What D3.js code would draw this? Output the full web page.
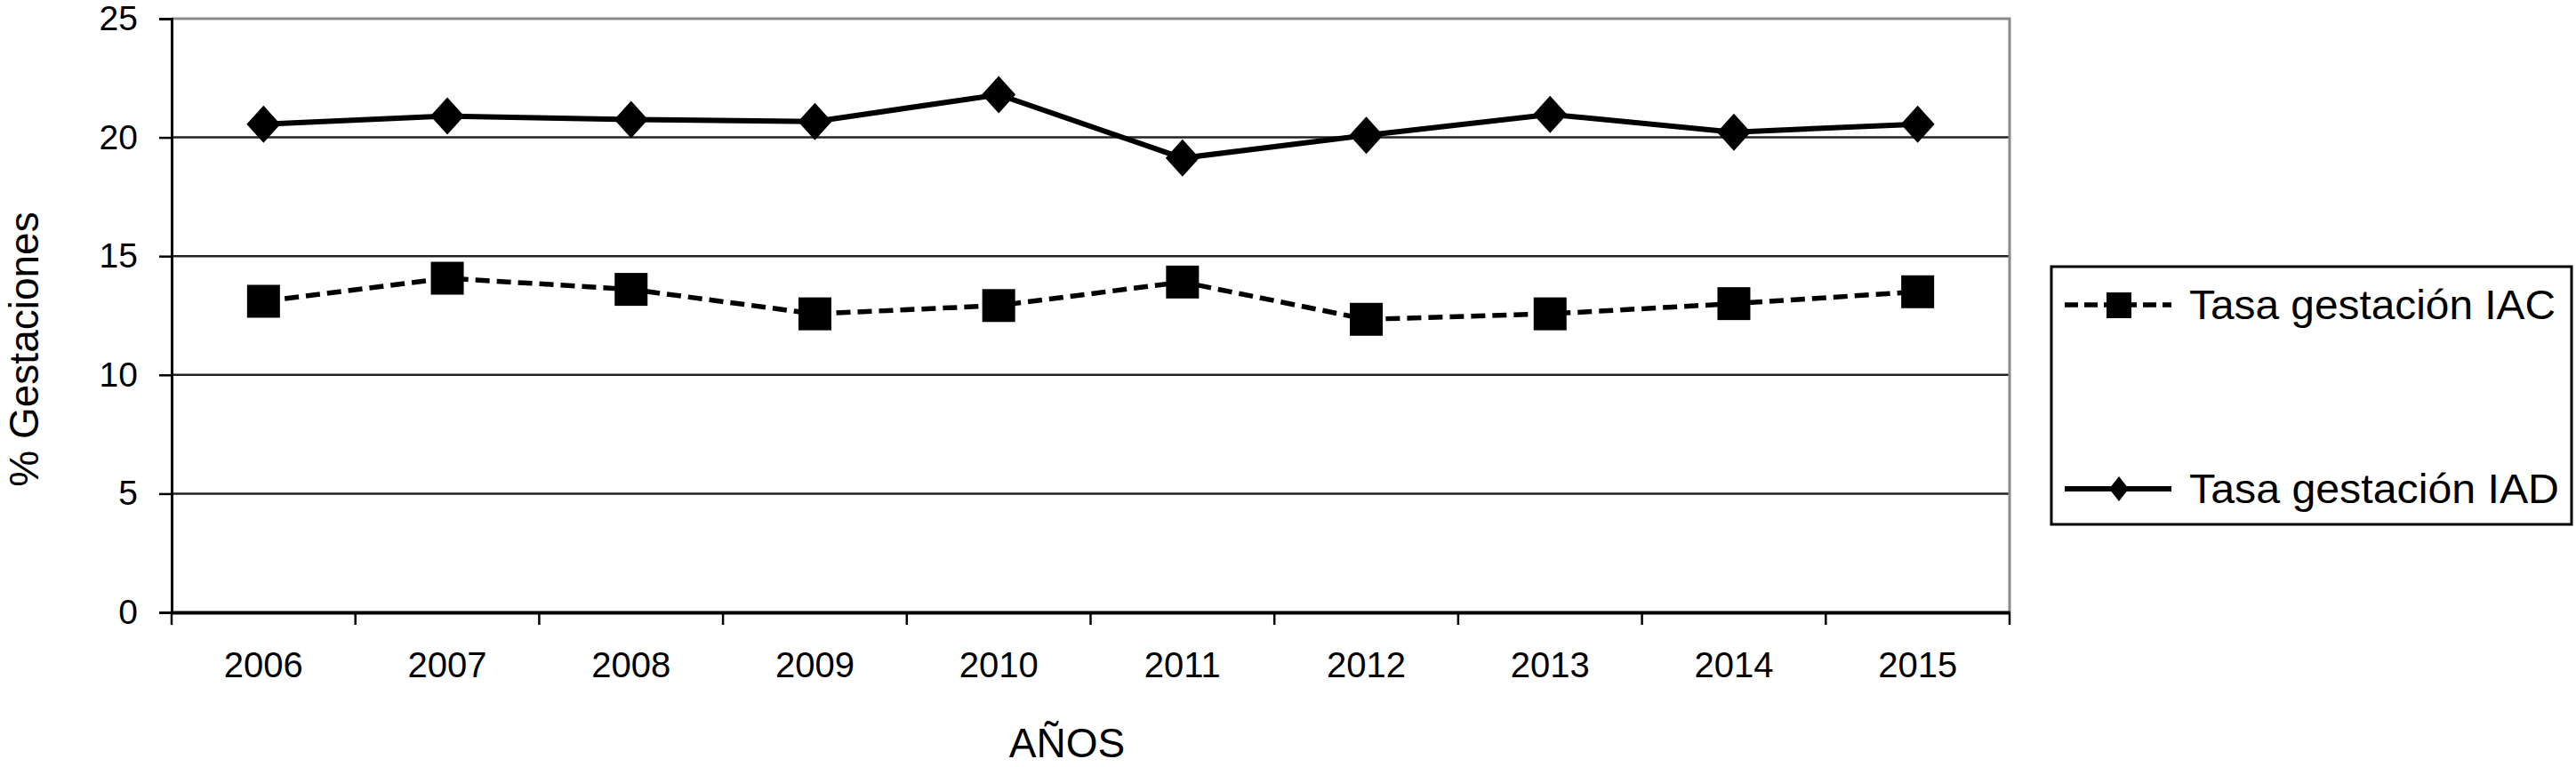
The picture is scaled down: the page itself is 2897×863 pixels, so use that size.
<!DOCTYPE html>
<meta charset="utf-8">
<head>
    <title>Tasa de gestacion IAC / IAD</title>
    <script src="https://cdn.jsdelivr.net/npm/d3@7"></script>
    <style>
        body { margin: 0; background: #fff; }
        text { font-family: "Liberation Sans", Arial, Helvetica, sans-serif; fill: #000; }
    </style>
</head>
<body>
<script>
    // data
    var years = ["2006", "2007", "2008", "2009", "2010", "2011", "2012", "2013", "2014", "2015"];
    var tasaIAC = [13.1, 14.07, 13.6, 12.57, 12.92, 13.91, 12.34, 12.57, 13.0, 13.5];
    var tasaIAD = [20.56, 20.9, 20.75, 20.67, 21.8, 19.13, 20.09, 20.97, 20.22, 20.56];
    var yTicks = [0, 5, 10, 15, 20, 25];
    var seriesNames = ["Tasa gestación IAC", "Tasa gestación IAD"];

    var W = 2897, H = 863;
    var plot = {left: 193, right: 2260, top: 21, bottom: 689};

    var svg = d3.select("body").append("svg")
        .attr("width", W)
        .attr("height", H);

    var x = d3.scaleBand().domain(years).range([plot.left, plot.right]);
    var y = d3.scaleLinear().domain([0, 25]).range([plot.bottom, plot.top]);
    var cx = d => x(d) + x.bandwidth() / 2;

    // gridlines (the top one is the gray frame)
    svg.append("g").selectAll("line")
        .data(yTicks.filter(t => t > 0 && t < 25))
        .join("line")
        .attr("x1", plot.left).attr("x2", plot.right)
        .attr("y1", d => y(d)).attr("y2", d => y(d))
        .attr("stroke", "#222")
        .attr("stroke-width", 2.5);

    // gray frame top and right
    svg.append("path")
        .attr("d", `M${plot.left},${y(25)}H${plot.right}V${plot.bottom}`)
        .attr("fill", "none")
        .attr("stroke", "#8a8a8a")
        .attr("stroke-width", 3);

    // y axis
    var yAxis = svg.append("g")
        .attr("transform", `translate(${plot.left},0)`)
        .call(d3.axisLeft(y).tickValues(yTicks).tickSize(14).tickPadding(24));
    yAxis.select(".domain").attr("stroke", "#000").attr("stroke-width", 3);
    yAxis.selectAll(".tick line").attr("stroke", "#000").attr("stroke-width", 2.5);
    yAxis.selectAll("text").style("font-size", "39px");

    // x axis labels
    var xAxis = svg.append("g")
        .attr("transform", `translate(0,${plot.bottom})`)
        .call(d3.axisBottom(x).tickSize(0).tickPadding(45));
    xAxis.select(".domain").attr("stroke", "#000").attr("stroke-width", 4);
    xAxis.selectAll("text").style("font-size", "40px");

    // x ticks at band edges
    svg.append("g").selectAll("line")
        .data(years.map(d => x(d)).concat([plot.right]))
        .join("line")
        .attr("x1", d => d).attr("x2", d => d)
        .attr("y1", plot.bottom).attr("y2", plot.bottom + 14)
        .attr("stroke", "#000")
        .attr("stroke-width", 2.5);

    // axis titles
    svg.append("text")
        .attr("x", 1200)
        .attr("y", 852)
        .attr("text-anchor", "middle")
        .style("font-size", "46px")
        .text("AÑOS");

    svg.append("text")
        .attr("transform", "translate(43,393) rotate(-90)")
        .attr("text-anchor", "middle")
        .style("font-size", "46px")
        .text("% Gestaciones");

    var line = d3.line().x(d => cx(d[0])).y(d => y(d[1]));
    var iac = years.map((d, i) => [d, tasaIAC[i]]);
    var iad = years.map((d, i) => [d, tasaIAD[i]]);

    // IAC dashed line + squares
    svg.append("path")
        .datum(iac)
        .attr("d", line)
        .attr("fill", "none")
        .attr("stroke", "#000")
        .attr("stroke-width", 5.5)
        .attr("stroke-dasharray", "16,8");

    svg.append("g").selectAll("rect")
        .data(iac)
        .join("rect")
        .attr("x", d => cx(d[0]) - 18.5)
        .attr("y", d => y(d[1]) - 18.5)
        .attr("width", 37).attr("height", 37)
        .attr("fill", "#000");

    // IAD solid line + diamonds
    svg.append("path")
        .datum(iad)
        .attr("d", line)
        .attr("fill", "none")
        .attr("stroke", "#000")
        .attr("stroke-width", 6);

    var diamond = (w, h) => `M0,${-h}L${w},0L0,${h}L${-w},0Z`;
    svg.append("g").selectAll("path")
        .data(iad)
        .join("path")
        .attr("transform", d => `translate(${cx(d[0])},${y(d[1])})`)
        .attr("d", diamond(19, 21))
        .attr("fill", "#000");

    // legend
    var legend = svg.append("g");
    legend.append("rect")
        .attr("x", 2307).attr("y", 300)
        .attr("width", 585).attr("height", 290)
        .attr("fill", "#fff")
        .attr("stroke", "#000")
        .attr("stroke-width", 3);

    var rows = [343, 550];
    var textWidths = [412, 416];
    legend.append("line")
        .attr("x1", 2322).attr("x2", 2442)
        .attr("y1", rows[0]).attr("y2", rows[0])
        .attr("stroke", "#000").attr("stroke-width", 5.5)
        .attr("stroke-dasharray", "15,7");
    legend.append("rect")
        .attr("x", 2369).attr("y", rows[0] - 14)
        .attr("width", 28).attr("height", 29)
        .attr("fill", "#000");
    legend.append("line")
        .attr("x1", 2322).attr("x2", 2442)
        .attr("y1", rows[1]).attr("y2", rows[1])
        .attr("stroke", "#000").attr("stroke-width", 6);
    legend.append("path")
        .attr("transform", `translate(2383,${rows[1]})`)
        .attr("d", diamond(11, 14))
        .attr("fill", "#000");

    legend.selectAll("text.lbl")
        .data(seriesNames)
        .join("text")
        .attr("class", "lbl")
        .attr("x", 2462)
        .attr("y", (d, i) => rows[i] + 16)
        .attr("textLength", (d, i) => textWidths[i])
        .attr("lengthAdjust", "spacingAndGlyphs")
        .style("font-size", "47px")
        .text(d => d);
</script>
</body>
</html>
